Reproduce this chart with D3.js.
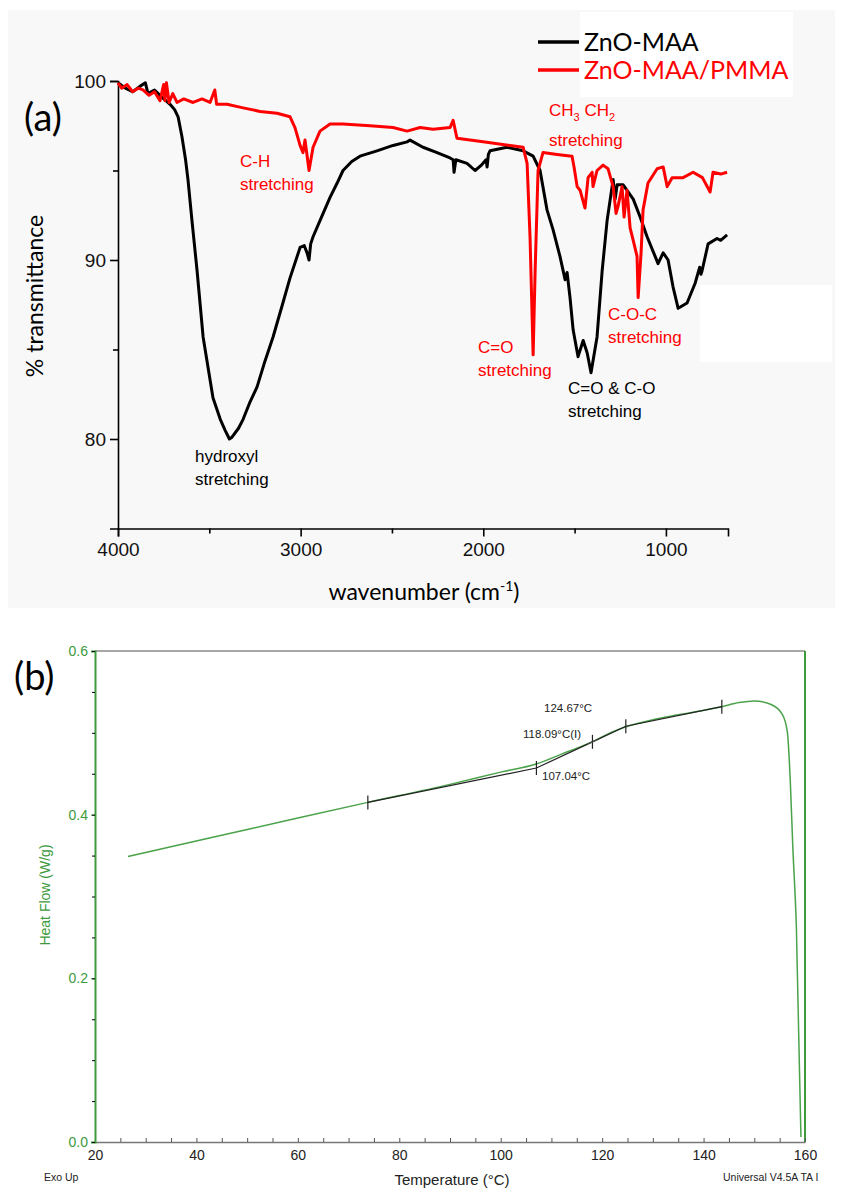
<!DOCTYPE html>
<html>
<head>
<meta charset="utf-8">
<script src="https://cdn.jsdelivr.net/npm/d3@7"></script>
<style>
  body { margin: 0; background: #fff; }
  svg { display: block; }
  .tick text { font-family: "Liberation Sans", Arial, sans-serif; }
</style>
</head>
<body>
<svg id="fig" width="841" height="1189"></svg>
<script>
// ---- (a) FTIR spectra ----
const irXTicks = [4000, 3000, 2000, 1000];
const irXMinor = [3500, 2500, 1500];
const irYTicks = [80, 90, 100];
const irYMinor = [85, 95];

// ZnO-MAA (black)
const maaWn = [4000,3960,3920,3880,3850,3836,3800,3760,3715,3690,3671,3650,3630,3617,3595,3567,3534,3480,3440,3414,3390,3376,3340,3315,3280,3239,3200,3151,3100,3058,3003,2980,2965,2954,2945,2932,2894,2839,2800,2768,2720,2675,2582,2494,2417,2401,2330,2253,2182,2165,2160,2150,2089,2045,2010,1985,1979,1972,1963,1870,1782,1727,1689,1651,1618,1580,1552,1541,1525,1508,1481,1453,1431,1410,1377,1349,1322,1289,1278,1267,1234,1179,1141,1103,1059,1043,1015,988,961,933,884,840,815,808,802,769,720,700,665];
const maaT  = [99.9,99.6,99.4,99.7,99.9,99.3,99.5,99.1,98.7,98.4,98.0,96.9,95.6,94.5,92.2,89.4,85.7,82.3,81.1,80.5,80.0,80.1,80.6,81.1,82.0,82.9,84.2,85.7,87.5,89.0,90.7,90.8,90.4,90.0,90.9,91.3,92.2,93.5,94.3,95.0,95.5,95.8,96.1,96.4,96.6,96.7,96.3,96.0,95.7,95.6,94.9,95.6,95.4,95.0,95.3,95.6,95.2,95.9,96.1,96.3,96.1,95.8,95.0,92.8,91.7,90.2,88.9,89.3,87.9,86.1,84.6,85.5,84.8,83.7,85.7,89.4,92.2,94.5,93.4,94.2,94.2,93.4,92.4,91.3,90.2,89.8,90.4,90.0,88.5,87.3,87.6,88.7,89.6,89.2,89.4,90.9,91.2,91.1,91.4];

// ZnO-MAA/PMMA (red)
const pmmaWn = [4000,3980,3950,3920,3890,3863,3830,3800,3770,3750,3743,3735,3720,3700,3677,3640,3589,3540,3496,3470,3460,3403,3315,3222,3129,3058,3031,3003,2987,2976,2954,2932,2894,2839,2768,2620,2494,2417,2346,2275,2182,2165,2144,2001,1853,1782,1760,1744,1727,1716,1700,1673,1596,1514,1503,1486,1470,1443,1426,1404,1399,1377,1344,1317,1289,1273,1262,1240,1229,1213,1196,1179,1158,1152,1136,1125,1098,1048,1015,993,966,906,851,800,758,742,700,665];
const pmmaT  = [99.9,99.6,99.8,99.4,99.6,99.5,99.2,99.4,98.9,99.8,98.9,99.9,98.8,99.3,98.8,99.0,98.8,99.0,98.8,99.5,98.7,98.7,98.5,98.3,98.2,98.0,97.4,96.4,96.0,96.7,95.0,96.3,97.2,97.6,97.6,97.5,97.4,97.2,97.4,97.3,97.4,97.8,96.8,96.6,96.4,96.3,95.4,91.3,84.7,89.4,95.0,96.0,95.9,95.8,95.2,94.1,93.9,92.9,94.6,94.9,94.1,95.0,95.3,95.1,94.1,92.6,93.0,94.1,92.4,93.9,91.8,91.1,90.2,87.9,90.4,92.8,94.3,95.1,95.2,94.1,94.6,94.6,94.9,94.6,93.8,94.9,94.8,94.9];

const irSeries = ["ZnO-MAA", "ZnO-MAA/PMMA"];

// ---- (b) DSC ----
const dscXTicks = [20, 40, 60, 80, 100, 120, 140, 160];
const dscYTicks = [0.0, 0.2, 0.4, 0.6];
const dscTemp = [26.5, 43, 60, 73.8, 90, 100, 107, 112, 118, 122, 125, 130, 135, 143.6, 147, 150, 153.2, 155.5, 156.5, 157.1, 157.6, 158.3, 159.2];
const dscHF   = [0.349, 0.372, 0.396, 0.415, 0.437, 0.452, 0.462, 0.474, 0.489, 0.501, 0.508, 0.516, 0.522, 0.532, 0.537, 0.539, 0.535, 0.523, 0.502, 0.441, 0.360, 0.262, 0.006];
const markTemp = [73.8, 107.04, 118.09, 124.67, 143.6];
const markHF   = [0.415, 0.457, 0.489, 0.508, 0.532];
const markLabels = ["", "107.04°C", "118.09°C(I)", "124.67°C", ""];

const svg = d3.select("#fig");
const sans = "'Liberation Sans', Arial, sans-serif";
const calib = "Lato, 'Open Sans', sans-serif";

// ================= panel (a) =================
svg.append("rect").attr("x", 8).attr("y", 10).attr("width", 827).attr("height", 598).attr("fill", "#f8f8f8");
svg.append("rect").attr("x", 580).attr("y", 12).attr("width", 213).attr("height", 85).attr("fill", "#fff");
svg.append("rect").attr("x", 700).attr("y", 285).attr("width", 132).attr("height", 77).attr("fill", "#fff");

const ix = d3.scaleLinear().domain([4000, 660]).range([118, 728]);
const iy = d3.scaleLinear().domain([75, 100]).range([528.5, 81]);

const ga = svg.append("g");

ga.append("g").attr("transform", "translate(0,528.5)")
  .call(d3.axisBottom(ix).tickValues(irXTicks).tickSize(8).tickPadding(6).tickFormat(d3.format("d")));
ga.append("g").attr("transform", "translate(0,528.5)")
  .call(d3.axisBottom(ix).tickValues(irXMinor).tickSize(5).tickFormat(""))
  .select(".domain").remove();
ga.append("g").attr("transform", "translate(118,0)")
  .call(d3.axisLeft(iy).tickValues(irYTicks).tickSize(8).tickPadding(4));
ga.append("g").attr("transform", "translate(118,0)")
  .call(d3.axisLeft(iy).tickValues(irYMinor).tickSize(5).tickFormat(""))
  .select(".domain").remove();
ga.selectAll(".tick line").attr("stroke", "#000").attr("stroke-width", 1.6);
ga.selectAll(".domain").attr("stroke", "#000").attr("stroke-width", 1.6);
ga.selectAll(".tick text").attr("font-size", 19).attr("fill", "#111");

const irLine = d3.line().x(d => ix(d[0])).y(d => iy(d[1]));
ga.append("path").datum(d3.zip(maaWn, maaT))
  .attr("d", irLine).attr("fill", "none").attr("stroke", "#000")
  .attr("stroke-width", 3).attr("stroke-linejoin", "round");
ga.append("path").datum(d3.zip(pmmaWn, pmmaT))
  .attr("d", irLine).attr("fill", "none").attr("stroke", "#f00")
  .attr("stroke-width", 3).attr("stroke-linejoin", "round");

// axis labels
ga.append("text").attr("transform", "translate(43,296) rotate(-90)")
  .attr("text-anchor", "middle").attr("font-family", calib).attr("font-size", 23)
  .text("% transmittance");
const xl = ga.append("text").attr("x", 424).attr("y", 600)
  .attr("text-anchor", "middle").attr("font-family", calib).attr("font-size", 23);
xl.append("tspan").text("wavenumber (cm");
xl.append("tspan").attr("dy", -9).attr("font-size", 14).text("-1");
xl.append("tspan").attr("dy", 9).text(")");

ga.append("text").attr("x", 24).attr("y", 131).attr("font-family", calib)
  .attr("font-size", 38).text("(a)");

// legend
const legColors = ["#000", "#f00"];
const legY = [42, 70];
irSeries.forEach((s, i) => {
  ga.append("line").attr("x1", 538).attr("x2", 579).attr("y1", legY[i]).attr("y2", legY[i])
    .attr("stroke", legColors[i]).attr("stroke-width", 3.5);
  ga.append("text").attr("x", 584).attr("y", legY[i] + 9).attr("font-family", calib)
    .attr("font-size", 25).attr("fill", legColors[i]).text(s);
});

// annotations
function note(x, y, lines, color) {
  lines.forEach((t, i) => {
    ga.append("text").attr("x", x).attr("y", y + i * 22.5)
      .attr("font-family", sans).attr("font-size", 17).attr("fill", color).text(t);
  });
}
note(240, 167, ["C-H", "stretching"], "#f00");
note(195, 462, ["hydroxyl", "stretching"], "#000");
note(478, 353, ["C=O", "stretching"], "#f00");
note(568, 394, ["C=O & C-O", "stretching"], "#000");
note(608, 320, ["C-O-C", "stretching"], "#f00");
const ch = ga.append("text").attr("x", 549).attr("y", 116)
  .attr("font-family", sans).attr("font-size", 17).attr("fill", "#f00");
ch.append("tspan").text("CH");
ch.append("tspan").attr("dy", 5).attr("font-size", 11).text("3");
ch.append("tspan").attr("dy", -5).text(" CH");
ch.append("tspan").attr("dy", 5).attr("font-size", 11).text("2");
ga.append("text").attr("x", 549).attr("y", 146)
  .attr("font-family", sans).attr("font-size", 17).attr("fill", "#f00").text("stretching");

// ================= panel (b) =================
const green = "#3d9a3d";
const dx = d3.scaleLinear().domain([20, 160]).range([95, 805]);
const dy = d3.scaleLinear().domain([0, 0.6]).range([1142, 651]);

const gb = svg.append("g");

// frame: gray top, green right
gb.append("line").attr("x1", dx(20)).attr("x2", dx(160)).attr("y1", dy(0.6)).attr("y2", dy(0.6))
  .attr("stroke", "#888").attr("stroke-width", 1.5);
gb.append("line").attr("x1", dx(160)).attr("x2", dx(160)).attr("y1", dy(0.6)).attr("y2", dy(0))
  .attr("stroke", green).attr("stroke-width", 2);

const xAxB = gb.append("g").attr("transform", `translate(0,${dy(0)})`)
  .call(d3.axisBottom(dx).tickValues(dscXTicks).tickSize(0).tickPadding(8));
gb.append("g").attr("transform", `translate(0,${dy(0)})`)
  .call(d3.axisTop(dx).ticks(28).tickSize(4).tickFormat(""))
  .select(".domain").remove();
xAxB.select(".domain").attr("stroke", "#777").attr("stroke-width", 1.5);
gb.selectAll(".tick line").attr("stroke", "#555");
xAxB.selectAll(".tick text").attr("font-size", 14).attr("fill", "#222");

const yAxB = gb.append("g").attr("transform", `translate(${dx(20)},0)`)
  .call(d3.axisLeft(dy).tickValues(dscYTicks).tickSize(4).tickPadding(3).tickFormat(d3.format(".1f")));
gb.append("g").attr("transform", `translate(${dx(20)},0)`)
  .call(d3.axisLeft(dy).ticks(12).tickSize(3).tickFormat(""))
  .select(".domain").remove();
yAxB.select(".domain").attr("stroke", green).attr("stroke-width", 2);
yAxB.selectAll(".tick line").attr("stroke", green);
yAxB.selectAll(".tick text").attr("font-size", 14).attr("fill", green);

gb.append("path").datum(d3.zip(dscTemp, dscHF))
  .attr("d", d3.line().x(d => dx(d[0])).y(d => dy(d[1])).curve(d3.curveMonotoneX))
  .attr("fill", "none").attr("stroke", "#4aa34a").attr("stroke-width", 1.5);

// analysis construction (black)
gb.append("path").datum(d3.zip(markTemp, markHF))
  .attr("d", d3.line().x(d => dx(d[0])).y(d => dy(d[1])))
  .attr("fill", "none").attr("stroke", "#222").attr("stroke-width", 1.2);
gb.selectAll(".mark").data(d3.zip(markTemp, markHF)).join("line")
  .attr("class", "mark")
  .attr("x1", d => dx(d[0])).attr("x2", d => dx(d[0]))
  .attr("y1", d => dy(d[1]) - 7).attr("y2", d => dy(d[1]) + 7)
  .attr("stroke", "#222").attr("stroke-width", 1.2);
// the inflection point gets a small cross
gb.append("line").attr("x1", dx(118.09) - 5).attr("x2", dx(118.09) + 5)
  .attr("y1", dy(0.489) + 2).attr("y2", dy(0.489) - 2).attr("stroke", "#555");

const labPos = [null, [542, 780], [523, 738], [544, 712], null];
markLabels.forEach((t, i) => {
  if (!t) return;
  gb.append("text").attr("x", labPos[i][0]).attr("y", labPos[i][1])
    .attr("font-family", sans).attr("font-size", 11.5).attr("fill", "#222").text(t);
});

gb.append("text").attr("transform", "translate(50,895) rotate(-90)")
  .attr("text-anchor", "middle").attr("font-family", sans).attr("font-size", 14)
  .attr("fill", green).text("Heat Flow (W/g)");
gb.append("text").attr("x", 452).attr("y", 1185).attr("text-anchor", "middle")
  .attr("font-family", sans).attr("font-size", 15).attr("fill", "#222").text("Temperature (°C)");
gb.append("text").attr("x", 44).attr("y", 1181).attr("font-family", sans)
  .attr("font-size", 10.5).attr("fill", "#222").text("Exo Up");
gb.append("text").attr("x", 723).attr("y", 1181).attr("font-family", sans)
  .attr("font-size", 10.5).attr("fill", "#222").text("Universal V4.5A TA I");

gb.append("text").attr("x", 14).attr("y", 690).attr("font-family", calib)
  .attr("font-size", 38).text("(b)");
</script>
</body>
</html>
